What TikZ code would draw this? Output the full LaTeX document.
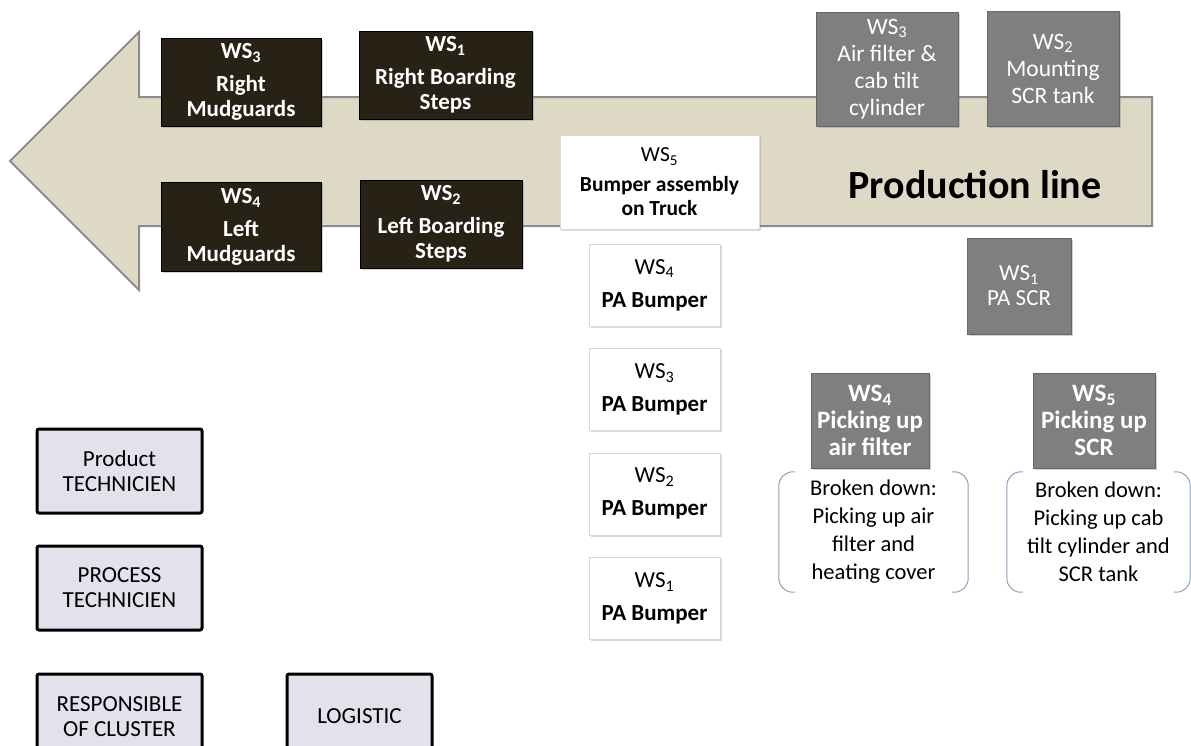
\documentclass[tikz,border=0pt]{standalone}
\usepackage{fontspec}
\setmainfont{Carlito}
\usetikzlibrary{positioning,shadows}

\definecolor{linebeige}{HTML}{DDD9C4}
\definecolor{lineedge}{HTML}{8C8C8C}
\definecolor{wsdark}{HTML}{272116}
\definecolor{wsgrey}{HTML}{7F7F7F}
\definecolor{rolefill}{HTML}{E4E0EC}
\definecolor{bracketcol}{HTML}{8DA2C0}

\begin{document}
\begin{tikzpicture}[x=1pt,y=-1pt,
    darkbox/.style={draw=black, fill=wsdark, text=white, align=center,
      font=\bfseries\fontsize{23}{25}\selectfont, inner sep=2pt,
      drop shadow={shadow xshift=1.5pt, shadow yshift=-1.5pt, opacity=.35}},
    greybox/.style={draw=wsgrey!80!black, fill=wsgrey, text=white, align=center,
      font=\fontsize{23.5}{27}\selectfont, inner sep=2pt,
      drop shadow={shadow xshift=1.5pt, shadow yshift=-1.5pt, opacity=.35}},
    whitebox/.style={draw=black!15, fill=white, align=center,
      font=\fontsize{23}{25}\selectfont, inner sep=2pt,
      minimum width=131pt, minimum height=82pt,
      drop shadow={shadow xshift=1.5pt, shadow yshift=-2pt, opacity=.3}},
    rolebox/.style={draw=black, line width=3pt, rounded corners=2pt, fill=rolefill,
      align=center, font=\fontsize{23}{25}\selectfont,
      minimum width=165pt, minimum height=84pt},
    splitbox/.style={align=center, font=\fontsize{22.5}{28}\selectfont,
      minimum width=189pt, minimum height=120pt},
    bracket/.style={draw=bracketcol, line width=1pt, rounded corners=14pt}]

  \useasboundingbox (0,0) rectangle (1191,745);
  \clip (0,0) rectangle (1191,745);

  % production line arrow
  \draw[fill=linebeige, draw=lineedge, line width=2pt, line join=miter]
    (10,161) -- (139,32) -- (139,97) -- (1152,97) -- (1152,226)
    -- (139,226) -- (139,290) -- cycle;
  \node[font=\bfseries\fontsize{40}{44}\selectfont] (pl) at (975,185) {Production line};

  % mudguards and boarding steps
  \node[darkbox, minimum width=160pt, minimum height=88pt] (rmud) at (241,82)
    {WS\textsubscript{3}\\[8pt] Right\\ Mudguards};
  \node[darkbox, minimum width=160pt, minimum height=89pt, below=56pt of rmud] (lmud)
    {WS\textsubscript{4}\\[8pt] Left\\ Mudguards};
  \node[darkbox, minimum width=173pt, minimum height=88pt] (rstep) at (445.5,75)
    {WS\textsubscript{1}\\[8pt] Right Boarding\\ Steps};
  \node[darkbox, minimum width=162pt, minimum height=88pt] (lstep) at (441,224)
    {WS\textsubscript{2}\\[8pt] Left Boarding\\ Steps};

  % air filter and SCR tank
  \node[greybox, minimum width=142pt, minimum height=114pt] (airf) at (887,69)
    {WS\textsubscript{3}\\ Air filter \&\\ cab tilt\\ cylinder};
  \node[greybox, minimum width=132pt, minimum height=115pt] (scrt) at (1053,68.5)
    {WS\textsubscript{2}\\ Mounting\\ SCR tank};
  \node[greybox, font=\fontsize{23}{25}\selectfont, minimum width=104pt,
    minimum height=96pt] (pascr) at (1019,286)
    {WS\textsubscript{1}\\ PA SCR};
  \node[greybox, font=\bfseries\fontsize{25}{27}\selectfont, minimum width=118pt,
    minimum height=95pt] (pick4) at (870,420.5)
    {WS\textsubscript{4}\\ Picking up\\ air filter};
  \node[greybox, font=\bfseries\fontsize{25}{27}\selectfont, minimum width=122pt,
    minimum height=95pt] (pick5) at (1094,420.5)
    {WS\textsubscript{5}\\ Picking up\\ SCR};

  \node[splitbox] (br4) at (873.5,532)
    {Broken down:\\ Picking up air\\ filter and\\ heating cover};
  \node[splitbox, minimum width=183pt] (br5) at (1098.5,532)
    {Broken down:\\ Picking up cab\\ tilt cylinder and\\ SCR tank};
  \draw[bracket] ([xshift=16pt]br4.north west) -- (br4.north west)
    -- (br4.south west) -- ([xshift=16pt]br4.south west);
  \draw[bracket] ([xshift=-16pt]br4.north east) -- (br4.north east)
    -- (br4.south east) -- ([xshift=-16pt]br4.south east);
  \draw[bracket] ([xshift=16pt]br5.north west) -- (br5.north west)
    -- (br5.south west) -- ([xshift=16pt]br5.south west);
  \draw[bracket] ([xshift=-16pt]br5.north east) -- (br5.north east)
    -- (br5.south east) -- ([xshift=-16pt]br5.south east);

  % bumper
  \node[whitebox, font=\fontsize{21.5}{24}\selectfont, minimum width=199pt,
    minimum height=94pt] (bump) at (659.5,182)
    {WS\textsubscript{5}\\[6pt] \textbf{Bumper assembly}\\ \textbf{on Truck}};
  \node[whitebox] (pa4) at (654.5,285) {WS\textsubscript{4}\\[8pt] \textbf{PA Bumper}};
  \node[whitebox, below=22pt of pa4] (pa3) {WS\textsubscript{3}\\[8pt] \textbf{PA Bumper}};
  \node[whitebox, below=22pt of pa3] (pa2) {WS\textsubscript{2}\\[8pt] \textbf{PA Bumper}};
  \node[whitebox, below=22pt of pa2] (pa1) {WS\textsubscript{1}\\[8pt] \textbf{PA Bumper}};

  % roles
  \node[rolebox] (prod) at (119.5,471) {Product\\ TECHNICIEN};
  \node[rolebox, below=30pt of prod] (proc) {PROCESS\\ TECHNICIEN};
  \node[rolebox, below=41pt of proc, minimum height=85pt] (resp) {RESPONSIBLE\\ OF CLUSTER};
  \node[rolebox, right=82pt of resp, minimum width=145pt, minimum height=85pt] (logi) {LOGISTIC};
\end{tikzpicture}
\end{document}
